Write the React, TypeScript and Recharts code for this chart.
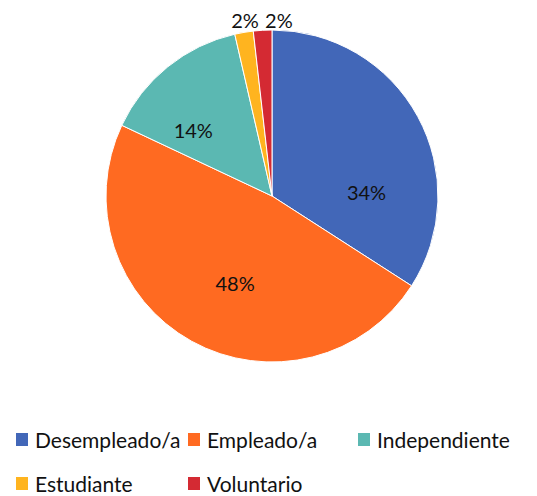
import { PieChart, Pie, Cell, Legend } from "recharts";

const categories = ["Desempleado/a", "Empleado/a", "Independiente", "Estudiante", "Voluntario"];
const values = [34.1, 47.9, 14.4, 1.8, 1.8];
const colors = ["#4267B8", "#FF6A21", "#5BB8B2", "#FFB41F", "#D42A33"];

// label placement tweaks (Excel "best fit" look)
const labelRadius = [0.57, 0.57, 0.62, 1.07, 1.06];
const labelShift = [26, -6, -11, 1, 5.5];

const data = categories.map((name, i) => ({ name, value: values[i] }));

const FONT = "Lato, 'Noto Sans', sans-serif";
const RAD = Math.PI / 180;

function renderLabel(props: any) {
  const { cx, cy, midAngle, outerRadius, percent, index } = props;
  const a = midAngle - labelShift[index];
  const r = outerRadius * labelRadius[index];
  const x = cx + r * Math.cos(-a * RAD);
  const y = cy + r * Math.sin(-a * RAD);
  return (
    <text
      x={x}
      y={y}
      fill="#111"
      fontSize={20}
      fontFamily={FONT}
      textAnchor="middle"
      dominantBaseline="central"
    >
      {`${Math.round(percent * 100)}%`}
    </text>
  );
}

function LegendGrid() {
  const cols = [16, 188, 358];
  const rows = [439, 483];
  return (
    <div style={{ position: "relative", width: 537, height: 496 }}>
      {categories.map((c, i) => (
        <div
          key={c}
          style={{
            position: "absolute",
            left: cols[i % 3],
            top: rows[Math.floor(i / 3)] - 13,
            height: 26,
            display: "flex",
            alignItems: "center",
            fontFamily: FONT,
            fontSize: 21,
            color: "#111",
            whiteSpace: "nowrap",
          }}
        >
          <span
            style={{
              display: "inline-block",
              width: 12,
              height: 13,
              background: colors[i],
              marginRight: 7,
            }}
          />
          {c}
        </div>
      ))}
    </div>
  );
}

export default function App() {
  return (
    <div style={{ position: "absolute", left: 0, top: 0, background: "#fff" }}>
      <PieChart width={537} height={496} margin={{ top: 0, right: 0, bottom: 0, left: 0 }}>
        <Pie
          data={data}
          dataKey="value"
          nameKey="name"
          cx={272}
          cy={196}
          outerRadius={166}
          startAngle={90}
          endAngle={-270}
          stroke="#fff"
          strokeWidth={1}
          label={renderLabel}
          labelLine={false}
          isAnimationActive={false}
        >
          {data.map((d, i) => (
            <Cell key={d.name} fill={colors[i]} />
          ))}
        </Pie>
        <Legend
          content={() => <LegendGrid />}
          wrapperStyle={{ position: "absolute", left: 0, top: 0, width: 537, height: 496 }}
        />
      </PieChart>
    </div>
  );
}
